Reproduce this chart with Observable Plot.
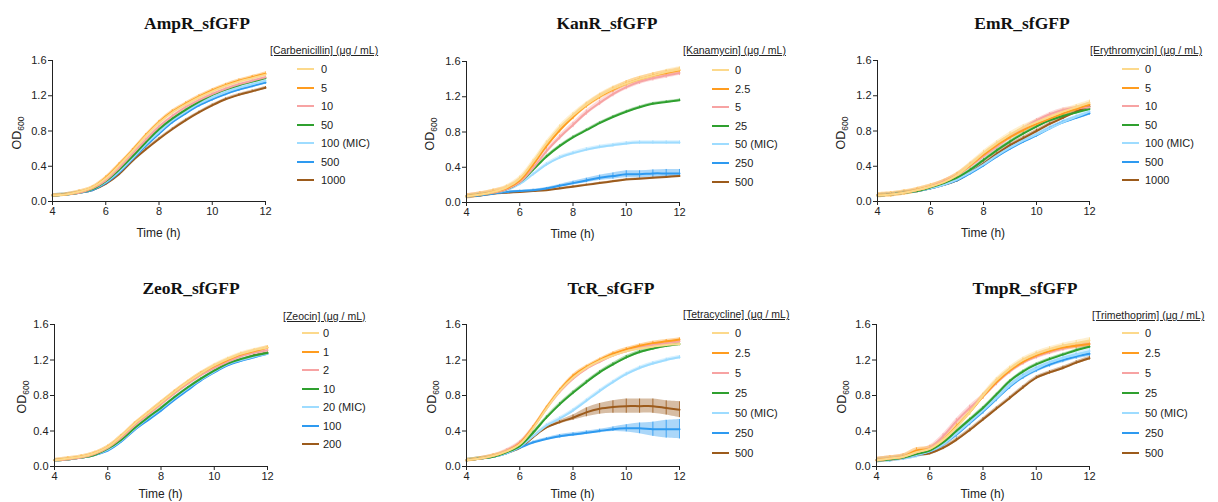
<!DOCTYPE html>
<html><head><meta charset="utf-8">
<script src="https://cdn.jsdelivr.net/npm/d3@7"></script>
<script src="https://cdn.jsdelivr.net/npm/@observablehq/plot@0.6"></script>
<style>
body{margin:0;background:#fff;}
#root{position:relative;width:1218px;height:502px;overflow:hidden;background:#fff;font-family:"Liberation Sans",Arial,sans-serif;color:#222;}
.ttl{position:absolute;font-family:"Liberation Serif","Times New Roman",serif;font-weight:bold;font-size:17.5px;transform:translate(-50%,-50%);white-space:nowrap;color:#111;}
.ylab{position:absolute;font-size:12.5px;transform:translate(-50%,-50%) rotate(-90deg);white-space:nowrap;}
.ylab sub{font-size:8.5px;}
.xlab{position:absolute;font-size:12px;line-height:13px;transform:translate(-50%,-50%);white-space:nowrap;}
.lgt{position:absolute;font-size:10.5px;transform:translateY(-50%);white-space:nowrap;text-decoration:underline;}
.lgi{position:absolute;font-size:11px;transform:translateY(-50%);white-space:nowrap;}
.sw{position:absolute;height:2px;transform:translateY(-50%);}
</style></head>
<body><div id="root"></div>
<script>
// ---------- data ----------
const time = [4,4.5,5,5.5,6,6.5,7,7.5,8,8.5,9,9.5,10,10.5,11,11.5,12];
const xTicks = [4,6,8,10,12];
const yTicks = [0,0.4,0.8,1.2,1.6];
const palette = ["#FCD98C","#FF9C1F","#F7A3A3","#2FA02F","#9EDCFF","#2E9AF0","#9C5B1C"];

const ampConc = ["0","5","10","50","100 (MIC)","500","1000"];
const ampOD = [
 [0.07,0.08,0.11,0.16,0.26,0.41,0.57,0.74,0.89,1.01,1.10,1.18,1.25,1.31,1.36,1.40,1.44],
 [0.07,0.08,0.11,0.16,0.27,0.42,0.58,0.75,0.90,1.02,1.11,1.19,1.26,1.32,1.37,1.41,1.45],
 [0.07,0.08,0.10,0.15,0.24,0.38,0.54,0.70,0.85,0.97,1.07,1.15,1.22,1.28,1.33,1.37,1.41],
 [0.07,0.08,0.10,0.14,0.23,0.36,0.51,0.67,0.82,0.94,1.04,1.13,1.21,1.27,1.32,1.36,1.40],
 [0.07,0.08,0.10,0.14,0.22,0.34,0.49,0.65,0.79,0.92,1.02,1.11,1.18,1.24,1.29,1.33,1.37],
 [0.07,0.08,0.10,0.13,0.21,0.33,0.48,0.63,0.77,0.90,1.00,1.09,1.16,1.22,1.27,1.31,1.35],
 [0.07,0.08,0.10,0.13,0.20,0.31,0.46,0.59,0.71,0.82,0.92,1.01,1.09,1.16,1.21,1.25,1.29]];
const ampSD = [0.02,0.02,0.015,0.01,0.02,0.02,0.015];

const kanConc = ["0","2.5","5","25","50 (MIC)","250","500"];
const kanOD = [
 [0.07,0.09,0.12,0.17,0.27,0.46,0.67,0.85,0.99,1.11,1.21,1.29,1.35,1.40,1.44,1.48,1.51],
 [0.07,0.09,0.12,0.16,0.25,0.43,0.64,0.82,0.97,1.10,1.20,1.28,1.35,1.40,1.44,1.47,1.50],
 [0.07,0.09,0.11,0.15,0.23,0.39,0.58,0.74,0.88,1.02,1.13,1.23,1.31,1.37,1.41,1.44,1.47],
 [0.07,0.09,0.11,0.15,0.23,0.37,0.52,0.64,0.74,0.82,0.90,0.97,1.03,1.08,1.12,1.14,1.16],
 [0.07,0.09,0.11,0.14,0.21,0.32,0.43,0.51,0.56,0.60,0.63,0.65,0.67,0.68,0.68,0.68,0.68],
 [0.07,0.08,0.10,0.12,0.13,0.14,0.16,0.19,0.22,0.25,0.28,0.30,0.32,0.32,0.33,0.33,0.33],
 [0.07,0.08,0.10,0.11,0.12,0.13,0.14,0.16,0.18,0.20,0.22,0.24,0.26,0.27,0.28,0.29,0.30]];
const kan250SD = [0.005,0.005,0.005,0.01,0.01,0.01,0.01,0.015,0.02,0.025,0.03,0.035,0.04,0.04,0.04,0.045,0.045];
const kanSD = [0.03,0.03,0.03,0.015,0.02,kan250SD,0.01];

const emConc = ["0","5","10","50","100 (MIC)","500","1000"];
const emOD = [
 [0.07,0.08,0.10,0.13,0.17,0.22,0.30,0.42,0.55,0.66,0.76,0.84,0.90,0.96,1.02,1.07,1.12],
 [0.07,0.08,0.10,0.13,0.17,0.22,0.30,0.41,0.53,0.64,0.73,0.81,0.88,0.94,1.00,1.05,1.10],
 [0.07,0.08,0.10,0.13,0.17,0.23,0.30,0.40,0.51,0.62,0.73,0.83,0.92,0.99,1.04,1.06,1.07],
 [0.07,0.08,0.10,0.12,0.16,0.21,0.27,0.36,0.47,0.58,0.68,0.77,0.85,0.92,0.97,1.01,1.05],
 [0.07,0.08,0.10,0.12,0.15,0.19,0.25,0.33,0.42,0.52,0.61,0.69,0.76,0.83,0.90,0.96,1.02],
 [0.07,0.08,0.10,0.12,0.15,0.19,0.24,0.32,0.41,0.51,0.60,0.68,0.75,0.83,0.90,0.95,1.00],
 [0.07,0.08,0.10,0.12,0.15,0.19,0.24,0.33,0.43,0.54,0.64,0.72,0.80,0.88,0.95,1.02,1.08]];
const emSD = [0.03,0.03,0.02,0.015,0.02,0.02,0.02];

const zeoConc = ["0","1","2","10","20 (MIC)","100","200"];
const zeoOD = [
 [0.07,0.09,0.11,0.15,0.22,0.34,0.48,0.60,0.72,0.84,0.95,1.05,1.14,1.21,1.27,1.31,1.34],
 [0.07,0.09,0.11,0.15,0.22,0.34,0.48,0.60,0.72,0.84,0.95,1.05,1.13,1.20,1.26,1.30,1.34],
 [0.07,0.08,0.10,0.14,0.21,0.32,0.46,0.58,0.70,0.82,0.93,1.03,1.11,1.18,1.24,1.28,1.31],
 [0.07,0.08,0.10,0.13,0.20,0.30,0.43,0.55,0.66,0.78,0.89,0.99,1.08,1.16,1.21,1.25,1.28],
 [0.07,0.08,0.10,0.13,0.19,0.29,0.42,0.54,0.65,0.77,0.88,0.98,1.07,1.15,1.20,1.24,1.27],
 [0.07,0.08,0.10,0.13,0.18,0.28,0.41,0.52,0.63,0.75,0.86,0.97,1.06,1.14,1.19,1.23,1.27],
 [0.07,0.08,0.10,0.13,0.19,0.29,0.42,0.54,0.65,0.77,0.88,0.98,1.07,1.15,1.20,1.25,1.28]];
const zeoSD = [0.02,0.02,0.015,0.01,0.015,0.015,0.01];

const tcConc = ["0","2.5","5","25","50 (MIC)","250","500"];
const tcOD = [
 [0.07,0.09,0.12,0.17,0.25,0.43,0.65,0.85,1.00,1.11,1.19,1.25,1.30,1.33,1.35,1.37,1.38],
 [0.07,0.09,0.12,0.17,0.26,0.44,0.66,0.86,1.02,1.12,1.20,1.27,1.32,1.36,1.39,1.41,1.43],
 [0.07,0.09,0.12,0.18,0.27,0.44,0.65,0.84,0.99,1.10,1.18,1.25,1.30,1.34,1.37,1.39,1.41],
 [0.07,0.09,0.11,0.16,0.23,0.38,0.55,0.70,0.83,0.95,1.06,1.15,1.23,1.29,1.33,1.36,1.38],
 [0.07,0.09,0.11,0.15,0.22,0.34,0.46,0.54,0.63,0.74,0.85,0.95,1.04,1.11,1.16,1.20,1.23],
 [0.07,0.09,0.11,0.15,0.21,0.27,0.31,0.34,0.36,0.38,0.40,0.42,0.43,0.43,0.42,0.42,0.42],
 [0.07,0.09,0.11,0.15,0.21,0.33,0.44,0.50,0.55,0.61,0.65,0.67,0.68,0.68,0.68,0.66,0.64]];
const tc250SD = [0.005,0.005,0.01,0.01,0.01,0.015,0.015,0.02,0.02,0.02,0.02,0.025,0.04,0.06,0.08,0.10,0.11];
const tc500SD = [0.005,0.005,0.01,0.01,0.01,0.015,0.015,0.02,0.03,0.05,0.06,0.07,0.08,0.08,0.08,0.08,0.09];
const tcSD = [0.02,0.02,0.02,0.02,0.02,tc250SD,tc500SD];

const tmpConc = ["0","2.5","5","25","50 (MIC)","250","500"];
const tmpOD = [
 [0.07,0.09,0.11,0.16,0.20,0.30,0.44,0.61,0.80,0.97,1.10,1.20,1.27,1.32,1.36,1.39,1.42],
 [0.07,0.09,0.11,0.18,0.20,0.30,0.45,0.61,0.79,0.95,1.08,1.18,1.25,1.30,1.34,1.36,1.38],
 [0.07,0.09,0.11,0.16,0.21,0.34,0.51,0.66,0.79,0.94,1.07,1.17,1.24,1.29,1.33,1.36,1.38],
 [0.07,0.08,0.10,0.14,0.18,0.27,0.40,0.53,0.66,0.81,0.96,1.07,1.15,1.21,1.26,1.31,1.35],
 [0.07,0.08,0.10,0.13,0.17,0.25,0.37,0.50,0.63,0.77,0.91,1.02,1.10,1.17,1.22,1.26,1.30],
 [0.07,0.08,0.10,0.13,0.17,0.25,0.36,0.49,0.62,0.76,0.90,1.01,1.09,1.15,1.20,1.24,1.27],
 [0.07,0.08,0.10,0.13,0.15,0.21,0.30,0.41,0.53,0.65,0.77,0.89,1.00,1.06,1.11,1.17,1.22]];
const tmpSD = [0.03,0.03,0.03,0.015,0.03,0.03,0.02];

// ---------- layout ----------
const panels = [
 {title:"AmpR_sfGFP", drug:"[Carbenicillin] (μg / mL)", conc:ampConc, od:ampOD, sd:ampSD, x0:52, x1:265, yT:60, yB:201, tx:197, ty:23, ylx:18, xly:233, lgx:270, lgy:50, swx:297, txx:321, items:[69,87.5,106,124.5,143,162,180]},
 {title:"KanR_sfGFP", drug:"[Kanamycin] (μg / mL)", conc:kanConc, od:kanOD, sd:kanSD, x0:466, x1:679, yT:61, yB:202, tx:607, ty:23, ylx:431, xly:234, lgx:683, lgy:50, swx:712, txx:735, items:[70,88.5,107,125.5,144,163,181.5]},
 {title:"EmR_sfGFP", drug:"[Erythromycin] (μg / mL)", conc:emConc, od:emOD, sd:emSD, x0:877, x1:1089, yT:60, yB:201, tx:1022, ty:23, ylx:842, xly:233, lgx:1090, lgy:50, swx:1122, txx:1145, items:[69,87.5,106,124.5,143,161.5,180]},
 {title:"ZeoR_sfGFP", drug:"[Zeocin] (μg / mL)", conc:zeoConc, od:zeoOD, sd:zeoSD, x0:54, x1:267, yT:324, yB:466, tx:191, ty:288, ylx:23, xly:494, lgx:283, lgy:316, swx:302, txx:323, items:[333,351.5,370,388.5,407,425.5,444]},
 {title:"TcR_sfGFP", drug:"[Tetracycline] (μg / mL)", conc:tcConc, od:tcOD, sd:tcSD, x0:466, x1:679, yT:324, yB:466, tx:611, ty:288, ylx:433, xly:494, lgx:683, lgy:314, swx:712, txx:735, items:[333,353,373,393,413,433,453]},
 {title:"TmpR_sfGFP", drug:"[Trimethoprim] (μg / mL)", conc:tmpConc, od:tmpOD, sd:tmpSD, x0:876, x1:1089, yT:324, yB:466, tx:1025, ty:288, ylx:843, xly:494, lgx:1092, lgy:315, swx:1122, txx:1145, items:[333,353,373,393,413,433,453]}
];

const root = document.getElementById("root");
function addDiv(cls, html, left, top, extra) {
  const d = document.createElement("div");
  d.className = cls; d.innerHTML = html;
  d.style.left = left + "px"; d.style.top = top + "px";
  if (extra) Object.assign(d.style, extra);
  root.appendChild(d); return d;
}

for (const p of panels) {
  const mL = 40, mR = 8, mT = 8, mB = 26;
  const rows = [];
  for (let k = p.conc.length - 1; k >= 0; k--) {
    p.od[k].forEach((v, i) => {
      const s = typeof p.sd[k] === "number" ? p.sd[k] : p.sd[k][i];
      rows.push({t: time[i], v, lo: v - s, hi: v + s, c: p.conc[k]});
    });
  }
  const svg = Plot.plot({
    width: p.x1 - p.x0 + mL + mR,
    height: p.yB - p.yT + mT + mB,
    marginLeft: mL, marginRight: mR, marginTop: mT, marginBottom: mB,
    style: {fontFamily: "'Liberation Sans', Arial, sans-serif", fontSize: "11px", color: "#222", background: "transparent", overflow: "visible"},
    x: {domain: [4, 12]},
    y: {domain: [0, 1.6]},
    color: {domain: p.conc, range: palette},
    marks: [
      Plot.areaY(rows, {x: "t", y1: "lo", y2: "hi", z: "c", fill: "c", fillOpacity: 0.4, curve: "catmull-rom"}),
      Plot.ruleX(rows, {x: "t", y1: "lo", y2: "hi", stroke: "c", strokeWidth: 1, strokeOpacity: 0.85}),
      Plot.lineY(rows, {x: "t", y: "v", z: "c", stroke: "c", strokeWidth: 2, curve: "catmull-rom"}),
      Plot.axisX({ticks: xTicks, tickSize: 4, tickPadding: 2, label: null, tickFormat: d => d}),
      Plot.axisY({ticks: yTicks, tickSize: 4, tickPadding: 2, label: null, tickFormat: d3.format(".1f")}),
      Plot.ruleX([4], {stroke: "#222", strokeWidth: 1}),
      Plot.ruleY([0], {stroke: "#222", strokeWidth: 1})
    ]
  });
  svg.style.position = "absolute";
  svg.style.left = (p.x0 - mL) + "px";
  svg.style.top = (p.yT - mT) + "px";
  root.appendChild(svg);

  addDiv("ttl", p.title, p.tx, p.ty);
  addDiv("ylab", "OD<sub>600</sub>", p.ylx, (p.yT + p.yB) / 2 + 2);
  addDiv("xlab", "Time (h)", (p.x0 + p.x1) / 2, p.xly);
  addDiv("lgt", p.drug, p.lgx, p.lgy);
  p.conc.forEach((c, k) => {
    addDiv("sw", "", p.swx, p.items[k], {width: "17px", background: palette[k]});
    addDiv("lgi", c, p.txx, p.items[k]);
  });
}
</script>
</body></html>
